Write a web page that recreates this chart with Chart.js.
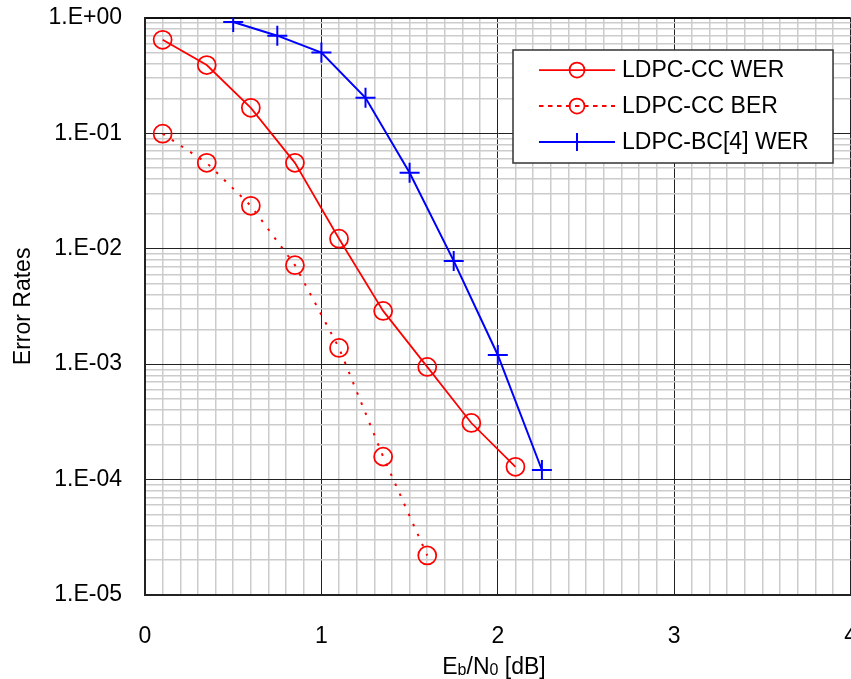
<!DOCTYPE html>
<html><head><meta charset="utf-8">
<script src="https://cdn.jsdelivr.net/npm/chart.js@4/dist/chart.umd.min.js"></script>
<style>
html,body{margin:0;padding:0;overflow:hidden;background:#fff}
#wrap{width:885px;height:698px;position:relative;margin-top:-19px}
</style>
</head><body>
<div id="wrap"><canvas id="c"></canvas></div>
<script>
// ---- data ----
const ebnoCC = [0.1, 0.35, 0.6, 0.85, 1.1, 1.35, 1.6, 1.85, 2.1];
const werCC  = [0.645, 0.39, 0.166, 0.0554, 0.0122, 0.00289, 0.000946, 0.000309, 0.000129];
const ebnoCCber = [0.1, 0.35, 0.6, 0.85, 1.1, 1.35, 1.6];
const berCC  = [0.099, 0.0554, 0.0235, 0.0072, 0.00138, 0.000158, 0.000022];
const ebnoBC = [0.5, 0.75, 1.0, 1.25, 1.5, 1.75, 2.0, 2.25];
const werBC  = [0.92, 0.70, 0.50, 0.203, 0.0454, 0.00784, 0.0012, 0.000121];

const seriesNames = ['LDPC-CC WER', 'LDPC-CC BER', 'LDPC-BC[4] WER'];
const xTickValues = [0, 1, 2, 3, 4];
const xTickLabels = ['0', '1', '2', '3', '4'];
const yTickValues = [1e-5, 1e-4, 1e-3, 1e-2, 1e-1, 1];
const yTickLabels = ['1.E-05', '1.E-04', '1.E-03', '1.E-02', '1.E-01', '1.E+00'];
const yTitle = 'Error Rates';
const xTitleParts = [['E', false], ['b', true], ['/N', false], ['0', true], [' [dB]', false]];

const FONT = '"Liberation Sans", Arial, sans-serif';
const OFF = 19; // canvas is shifted up by this many pixels
const pts = (xs, ys) => xs.map((x, i) => ({x: x, y: ys[i]}));

function yMajorIndex(v) {
  for (let i = 0; i < yTickValues.length; i++) {
    if (Math.abs(v - yTickValues[i]) / yTickValues[i] < 1e-6) return i;
  }
  return -1;
}
function xMajorIndex(v) {
  for (let i = 0; i < xTickValues.length; i++) {
    if (Math.abs(v - xTickValues[i]) < 1e-6) return i;
  }
  return -1;
}

const legendPlugin = {
  id: 'innerLegend',
  afterDraw(chart) {
    const ctx = chart.ctx;
    const box = {l: 513, t: 50 + OFF, r: 833, b: 163 + OFF};
    ctx.save();
    ctx.fillStyle = '#fff';
    ctx.fillRect(box.l, box.t, box.r - box.l, box.b - box.t);
    ctx.strokeStyle = '#333';
    ctx.lineWidth = 1.5;
    ctx.strokeRect(box.l, box.t, box.r - box.l, box.b - box.t);
    const rows = [70 + OFF, 106 + OFF, 142 + OFF];
    const legendDash = [[], [4.5, 4.5], []];
    chart.data.datasets.forEach((ds, i) => {
      const y = rows[i];
      ctx.save();
      ctx.strokeStyle = ds.borderColor;
      ctx.lineWidth = ds.borderWidth;
      ctx.setLineDash(legendDash[i]);
      ctx.beginPath();
      ctx.moveTo(539, y);
      ctx.lineTo(615, y);
      ctx.stroke();
      ctx.setLineDash([]);
      ctx.lineWidth = ds.pointBorderWidth;
      ctx.strokeStyle = ds.pointBorderColor;
      ctx.beginPath();
      if (ds.pointStyle === 'circle') {
        ctx.arc(577, y, 7.5, 0, Math.PI * 2);
      } else {
        ctx.moveTo(577 - 9, y); ctx.lineTo(577 + 9, y);
        ctx.moveTo(577, y - 9); ctx.lineTo(577, y + 9);
      }
      ctx.stroke();
      ctx.restore();
      ctx.fillStyle = '#000';
      ctx.font = '23px ' + FONT;
      ctx.textAlign = 'left';
      ctx.textBaseline = 'middle';
      ctx.fillText(ds.label, 622, y + 1);
    });
    ctx.restore();
  }
};

let xTitlePartsWidths = [];
const xTitlePlugin = {
  id: 'xTitle',
  afterDraw(chart) {
    const ctx = chart.ctx;
    ctx.save();
    ctx.fillStyle = '#000';
    ctx.textBaseline = 'alphabetic';
    ctx.textAlign = 'left';
    const big = '23px ' + FONT, small = '16px ' + FONT;
    let total = 0;
    xTitlePartsWidths = xTitleParts.map(p => { ctx.font = p[1] ? small : big; const w = ctx.measureText(p[0]).width; total += w; return w; });
    let x = 494 - total / 2;
    const base = 674 + OFF;
    xTitleParts.forEach((p, i) => {
      ctx.font = p[1] ? small : big;
      ctx.fillText(p[0], x, p[1] ? base + 1 : base);
      x += xTitlePartsWidths[i];
    });
    ctx.restore();
  }
};

const circleCommon = {
  borderColor: '#ff0000',
  pointStyle: 'circle',
  pointRadius: 9,
  pointHoverRadius: 9,
  pointBorderColor: '#ff0000',
  pointBackgroundColor: 'rgba(0,0,0,0)',
  pointBorderWidth: 1.75,
  fill: false,
  tension: 0
};

new Chart(document.getElementById('c'), {
  type: 'line',
  data: {
    datasets: [
      Object.assign({label: seriesNames[0], data: pts(ebnoCC, werCC), borderWidth: 1.75}, circleCommon),
      Object.assign({label: seriesNames[1], data: pts(ebnoCCber, berCC), borderWidth: 2, borderDash: [2.5, 8.5]}, circleCommon),
      {
        label: seriesNames[2], data: pts(ebnoBC, werBC),
        borderColor: '#0000ff', borderWidth: 2,
        pointStyle: 'cross', pointRadius: 10, pointHoverRadius: 10,
        pointBorderColor: '#0000ff', pointBorderWidth: 2,
        pointBackgroundColor: 'rgba(0,0,0,0)', fill: false, tension: 0
      }
    ]
  },
  options: {
    responsive: true,
    maintainAspectRatio: false,
    animation: false,
    layout: {padding: {top: 0, left: 0, right: 0, bottom: 0}},
    plugins: {legend: {display: false}, tooltip: {enabled: false}},
    scales: {
      x: {
        type: 'linear', min: 0, max: 4,
        afterFit(s) { s.height = 84; },
        ticks: {
          stepSize: 0.1, autoSkip: false, maxRotation: 0, minRotation: 0,
          padding: 28, color: '#000', font: {family: FONT, size: 23},
          callback(v) { const i = xMajorIndex(v); return i >= 0 ? xTickLabels[i] : ''; }
        },
        grid: {
          drawTicks: false,
          color(c) { return xMajorIndex(c.tick.value) >= 0 ? '#222' : '#cccccc'; },
          lineWidth(c) { return xMajorIndex(c.tick.value) >= 0 ? 1 : 1.5; }
        },
        border: {display: true, color: '#222', width: 2},
        title: {display: false}
      },
      y: {
        type: 'logarithmic', min: 1e-5, max: 1,
        afterFit(s) { s.width = 145; },
        afterBuildTicks(s) {
          const t = [];
          for (let e = -5; e <= 0; e++) {
            for (let m = 1; m <= 9; m++) {
              const v = m * Math.pow(10, e);
              if (v > 1.0000001) break;
              t.push({value: v});
            }
          }
          s.ticks = t;
        },
        ticks: {
          autoSkip: false, padding: 23, color: '#000', font: {family: FONT, size: 23},
          callback(v) { const i = yMajorIndex(v); return i >= 0 ? yTickLabels[i] : ''; }
        },
        grid: {
          drawTicks: false,
          color(c) {
            const i = yMajorIndex(c.tick.value);
            if (i === yTickValues.length - 1) return '#111';
            return i >= 0 ? '#222' : '#cccccc';
          },
          lineWidth(c) {
            const i = yMajorIndex(c.tick.value);
            if (i === yTickValues.length - 1) return 2;
            return i >= 0 ? 1 : 1.5;
          }
        },
        border: {display: true, color: '#222', width: 2},
        title: {display: true, text: yTitle, color: '#000', font: {family: FONT, size: 23}, padding: {top: 10, bottom: 0}}
      }
    }
  },
  plugins: [legendPlugin, xTitlePlugin]
});
</script>
</body></html>
